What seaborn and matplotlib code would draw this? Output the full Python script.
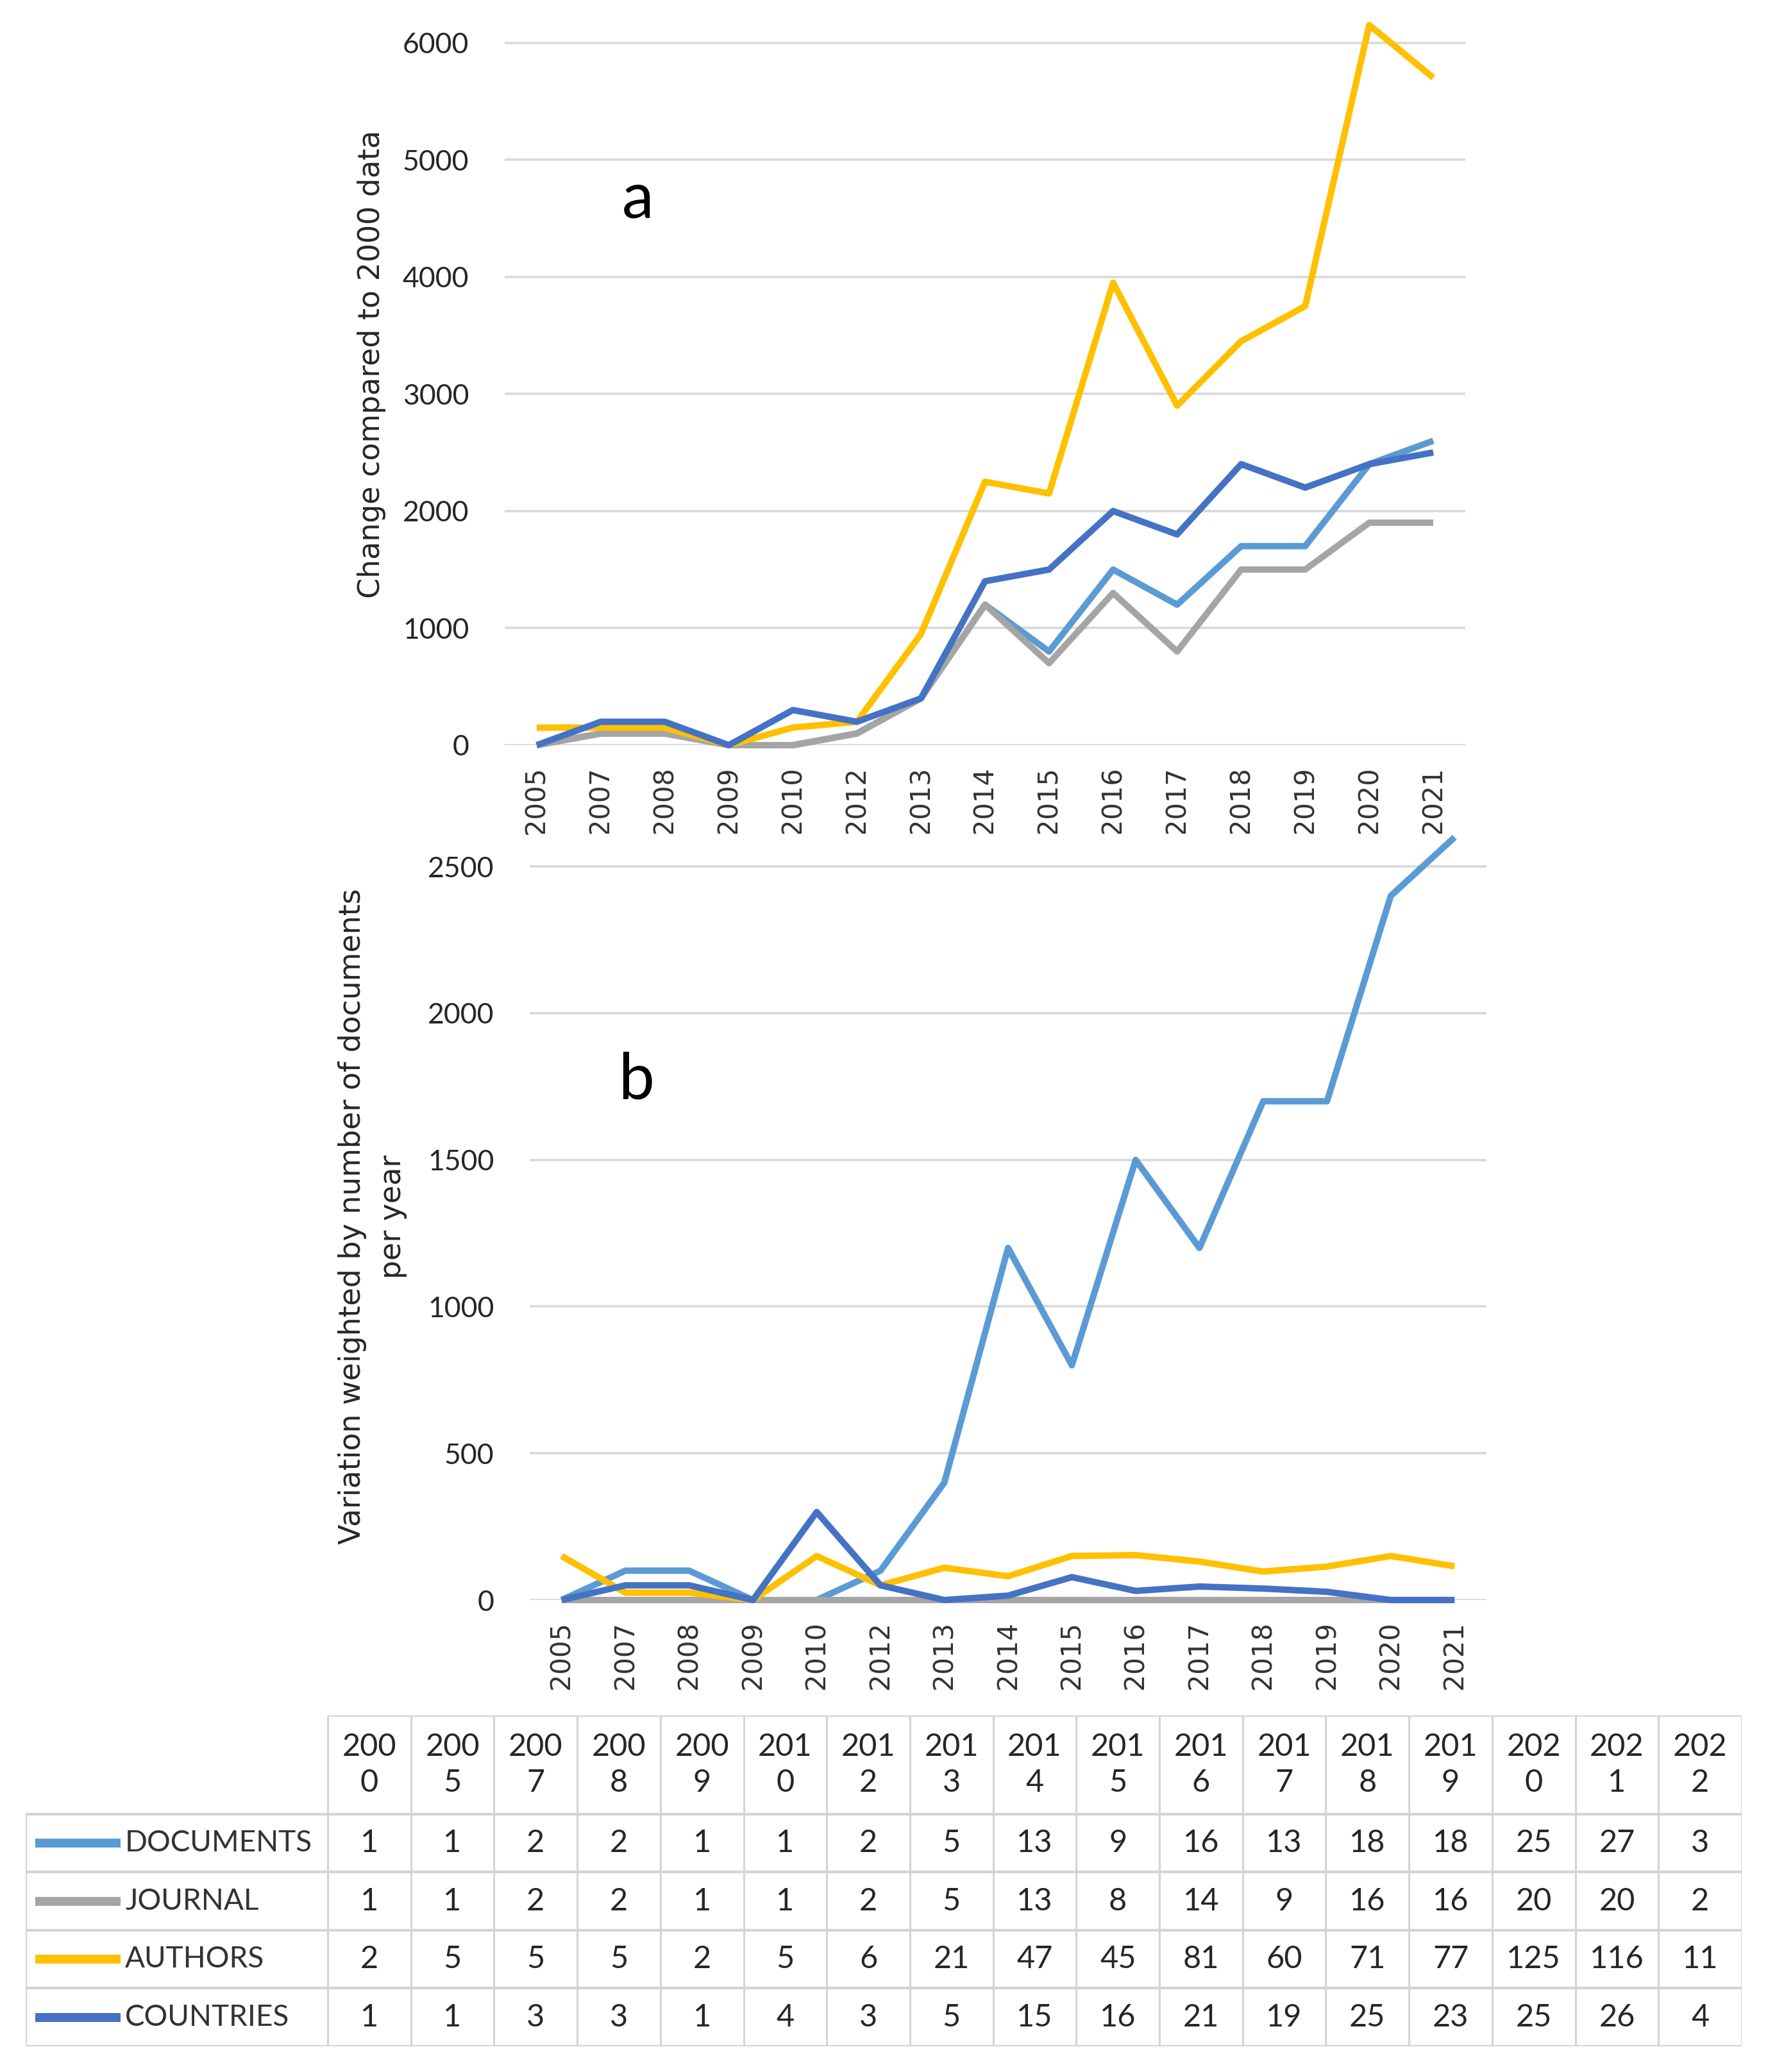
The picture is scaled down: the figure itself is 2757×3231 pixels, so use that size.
import pandas as pd
import matplotlib
matplotlib.use('Agg')
import matplotlib.pyplot as plt
import seaborn as sns

# Chart values
years = ['2005', '2007', '2008', '2009', '2010', '2012', '2013', '2014',
         '2015', '2016', '2017', '2018', '2019', '2020', '2021']
series = ['DOCUMENTS', 'JOURNAL', 'AUTHORS', 'COUNTRIES']
colors = ['#5B9BD5', '#A5A5A5', '#FFC000', '#4472C4']

# panel a: change compared to 2000 data
a_documents = [0, 100, 100, 0, 0, 100, 400, 1200, 800, 1500, 1200, 1700, 1700, 2400, 2600]
a_journal = [0, 100, 100, 0, 0, 100, 400, 1200, 700, 1300, 800, 1500, 1500, 1900, 1900]
a_authors = [150, 150, 150, 0, 150, 200, 950, 2250, 2150, 3950, 2900, 3450, 3750, 6150, 5700]
a_countries = [0, 200, 200, 0, 300, 200, 400, 1400, 1500, 2000, 1800, 2400, 2200, 2400, 2500]

# panel b: variation weighted by number of documents per year
b_documents = [0, 100, 100, 0, 0, 100, 400, 1200, 800, 1500, 1200, 1700, 1700, 2400, 2600]
b_journal = [0, 0, 0, 0, 0, 0, 0, 0, 0, 0, 0, 0, 0, 0, 0]
b_authors = [150, 25, 25, 0, 150, 50, 110, 81, 150, 153, 131, 97, 114, 150, 115]
b_countries = [0, 50, 50, 0, 300, 50, 0, 15, 78, 31, 46, 39, 28, 0, 0]

# data table under the charts
table_years = ['2000', '2005', '2007', '2008', '2009', '2010', '2012', '2013', '2014',
               '2015', '2016', '2017', '2018', '2019', '2020', '2021', '2022']
table_documents = [1, 1, 2, 2, 1, 1, 2, 5, 13, 9, 16, 13, 18, 18, 25, 27, 3]
table_journal = [1, 1, 2, 2, 1, 1, 2, 5, 13, 8, 14, 9, 16, 16, 20, 20, 2]
table_authors = [2, 5, 5, 5, 2, 5, 6, 21, 47, 45, 81, 60, 71, 77, 125, 116, 11]
table_countries = [1, 1, 3, 3, 1, 4, 3, 5, 15, 16, 21, 19, 25, 23, 25, 26, 4]

sns.set_theme(style='white')
plt.rcParams['font.family'] = ['DejaVu Sans']

W, H = 2757, 3231
fig = plt.figure(figsize=(W / 100, H / 100), dpi=100)
palette = dict(zip(series, colors))


def long_frame(cols):
    rows = []
    for name, vals in zip(series, cols):
        for y, v in zip(years, vals):
            rows.append({'year': y, 'series': name, 'value': v})
    return pd.DataFrame(rows)


def draw_panel(rect, cols, ymax, yticks):
    ax = fig.add_axes(rect)
    df = long_frame(cols)
    sns.lineplot(data=df, x='year', y='value', hue='series', hue_order=series,
                 palette=palette, linewidth=7.2, sort=False, legend=False, ax=ax)
    for ln in ax.lines:
        ln.set_clip_on(False)
        ln.set_solid_joinstyle('round')
        ln.set_solid_capstyle('butt')
    ax.set_xlim(-0.5, len(years) - 0.5)
    ax.set_ylim(0, ymax)
    ax.set_yticks(yticks)
    ax.yaxis.grid(True, color='#D9D9D9', linewidth=2.6)
    ax.xaxis.grid(False)
    ax.set_axisbelow(True)
    for s in ax.spines.values():
        s.set_visible(False)
    ax.set_xlabel('')
    ax.set_ylabel('')
    ax.tick_params(axis='y', length=0, pad=40, labelsize=32, labelcolor='#262626')
    ax.tick_params(axis='x', length=0, pad=24, labelsize=30, labelcolor='#333333',
                   rotation=90)
    for lab in ax.get_yticklabels():
        lab.set_family('Lato')
    return ax


# panel a
ax_a = draw_panel([787 / W, 1 - 1162 / H, 1498 / W, 1132 / H],
                  [a_documents, a_journal, a_authors, a_countries],
                  6200, range(0, 7000, 1000))
fig.text(580 / W, 1 - 568 / H, 'Change compared to 2000 data', rotation=90,
         ha='center', va='center', fontsize=33, color='#262626')
fig.text(995 / W, 1 - 311 / H, 'a', ha='center', va='center', fontsize=72,
         family='Lato', color='black')

# panel b
ax_b = draw_panel([826 / W, 1 - 2495 / H, 1492 / W, 1195 / H],
                  [b_documents, b_journal, b_authors, b_countries],
                  2612, range(0, 3000, 500))
fig.text(581 / W, 1 - 1897 / H, 'Variation weighted by number of documents\nper year',
         rotation=90, ha='center', va='center', fontsize=33, color='#262626',
         linespacing=1.5, multialignment='center')
fig.text(993 / W, 1 - 1685 / H, 'b', ha='center', va='center', fontsize=72,
         family='Lato', color='black')

# data table
ax_t = fig.add_axes([40 / W, 1 - 3191 / H, 2676 / W, 516 / H])
n = len(table_years)
label_w = 471 / 129.7
header_h = 1.7
nrows = len(series)
ax_t.set_xlim(-label_w, n)
ax_t.set_ylim(header_h + nrows, 0)
ax_t.axis('off')

grid_c = '#D4D4D4'
ax_t.hlines(0, 0, n, color=grid_c, linewidth=3)
for i in range(nrows + 1):
    ax_t.hlines(header_h + i, -label_w, n, color=grid_c, linewidth=3)
ax_t.vlines(-label_w, header_h, header_h + nrows, color=grid_c, linewidth=3)
for j in range(n + 1):
    ax_t.vlines(j, 0, header_h + nrows, color=grid_c, linewidth=2.2)

for j, yr in enumerate(table_years):
    ax_t.text(j + 0.5, header_h / 2, yr[:3] + '\n' + yr[3:], ha='center', va='center',
              fontsize=35, family='Lato', color='#262626', linespacing=1.35)

table_rows = [table_documents, table_journal, table_authors, table_countries]
for i, (name, col, vals) in enumerate(zip(series, colors, table_rows)):
    yc = header_h + i + 0.5
    ax_t.plot([-label_w + 15 / 129.7, -label_w + 148 / 129.7], [yc, yc], color=col,
              linewidth=10, solid_capstyle='butt')
    ax_t.text(-label_w + 155 / 129.7, yc, name, ha='left', va='center', fontsize=33,
              family='Lato', color='#333333')
    for j, v in enumerate(vals):
        ax_t.text(j + 0.5, yc, str(v), ha='center', va='center', fontsize=35,
                  family='Lato', color='#262626')

fig.savefig('out.png', dpi=100, facecolor='white')
